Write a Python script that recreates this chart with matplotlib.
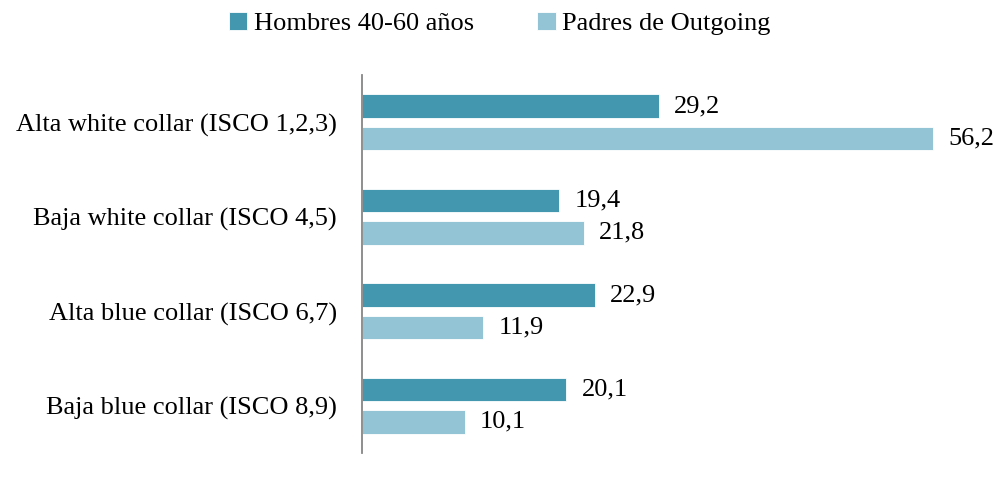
import numpy as np
import matplotlib.pyplot as plt

categories = ["Alta white collar (ISCO 1,2,3)", "Baja white collar (ISCO 4,5)",
              "Alta blue collar (ISCO 6,7)", "Baja blue collar (ISCO 8,9)"]
hombres = [29.2, 19.4, 22.9, 20.1]
padres = [56.2, 21.8, 11.9, 10.1]
series_names = ["Hombres 40-60 años", "Padres de Outgoing"]

plt.rcParams['font.family'] = ['Liberation Serif', 'DejaVu Serif']
fs = 19

fig = plt.figure(figsize=(9.95, 4.8), dpi=100)
ax = fig.add_axes([362 / 995, 1 - 453 / 480, 610 / 995, 378 / 480])

y = np.arange(len(categories))
h = 0.25
off = 0.17
c1, c2 = "#4398b0", "#93c4d6"
b1 = ax.barh(y - off, hombres, height=h, color=c1, edgecolor="white", linewidth=0.6, label=series_names[0])
b2 = ax.barh(y + off, padres, height=h, color=c2, edgecolor="white", linewidth=0.6, label=series_names[1])

for bars, vals in ((b1, hombres), (b2, padres)):
    for bar, v in zip(bars, vals):
        ax.text(bar.get_width() + 1.5, bar.get_y() + bar.get_height() / 2,
                f"{v:.1f}".replace(".", ","), va="center", ha="left", fontsize=fs)

ax.set_xlim(0, 60)
ax.set_ylim(3.5, -0.5)
ax.set_yticks(y)
ax.set_yticklabels(categories, fontsize=fs)
ax.tick_params(axis="y", length=0, pad=18)
ax.set_xticks([])
for s in ["top", "right", "bottom"]:
    ax.spines[s].set_visible(False)
ax.spines["left"].set_color("#868686")
ax.spines["left"].set_linewidth(1.3)

fig.legend(handles=[b1, b2], loc="upper center", bbox_to_anchor=(0.502, 1.025), ncol=2,
           frameon=False, fontsize=fs, handlelength=0.7, handleheight=0.7,
           handletextpad=0.25, columnspacing=2.4)

fig.savefig("out.png", dpi=100)
